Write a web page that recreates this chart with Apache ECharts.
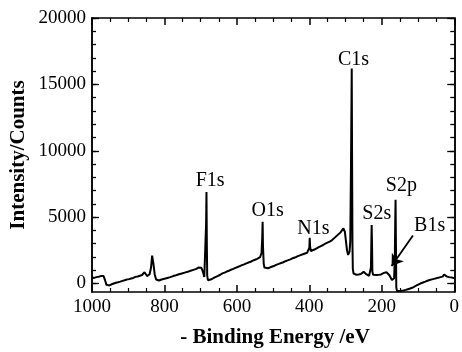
<!DOCTYPE html>
<html>
<head>
<meta charset="utf-8">
<script src="https://cdn.jsdelivr.net/npm/echarts@6/dist/echarts.min.js"></script>
<style>
html,body{margin:0;padding:0;background:#fff;}
#chart{width:462px;height:352px;}
</style>
</head>
<body>
<div id="chart"></div>
<script>
// Binding energy (eV) and intensity (counts)
const energy = [1000,994,988,982,976,972,968,964,960,957,952,946,940,934,928,922,916,910,904,898,892,886,880,874,868,862,858,855,852,848,845,841,837,834,832,830,827,823,820,815,808,800,792,784,776,768,760,752,744,736,728,720,712,706,702,698,694,690,687,685,684,683,682,680,676,670,664,658,652,646,640,634,628,622,616,610,604,598,592,586,580,574,568,562,556,550,544,540,536,532,530,529,528,526,524,520,514,508,502,496,490,484,478,472,466,460,454,448,442,436,430,424,418,412,406,402,400,399,398,396,392,386,380,374,368,362,356,350,344,338,332,326,320,314,310,306,304,302,299,296,293,291,289,287,285,283,282,281,280,278,275,270,264,258,254,250,247,243,239,235,232,230,229,228,227,226,224,220,214,208,202,198,194,190,187,183,179,175,172,169,166,164,163,162,161,160,158,152,146,140,134,128,122,116,110,104,98,92,86,80,74,68,62,56,50,44,38,32,30,28,26,20,14,8,2,0];
const counts = [450,420,480,500,560,640,560,250,-100,-220,-150,-60,0,60,90,140,200,240,300,330,380,420,500,530,580,640,760,850,700,560,500,700,1200,2100,2200,1400,700,300,200,230,300,360,420,480,560,620,700,760,820,880,960,1030,1100,1200,1280,1180,900,500,600,4500,6900,3000,600,250,230,320,420,500,580,660,760,820,900,960,1040,1100,1180,1240,1310,1380,1440,1520,1580,1640,1720,1790,1860,1900,1980,2300,3500,4650,2800,1500,1200,1100,1150,1220,1280,1340,1420,1480,1540,1600,1680,1740,1800,1880,1940,2000,2080,2140,2200,2260,2320,2420,2700,3450,2800,2450,2480,2560,2650,2740,2820,2900,3000,3080,3160,3250,3400,3550,3700,3850,3980,4150,4250,3900,3200,2500,2150,2100,2400,3200,9000,16200,9000,3000,1100,750,680,660,680,720,800,880,820,700,600,580,650,1200,2800,4400,3000,900,650,620,640,650,680,720,800,900,850,760,620,420,260,220,400,2000,4500,6300,3000,-300,-560,-560,-550,-520,-480,-430,-380,-320,-230,-140,-60,20,80,140,210,260,310,350,390,440,480,520,600,680,560,520,480,460,420,400];

// Peak annotations
const peakNames = ['F1s','O1s','N1s','C1s','S2s','S2p','B1s'];
const peakLabelEnergy = [674,515,389,278,214,146,68];
const peakLabelCounts = [7770,5510,4130,16830,5260,7400,4380];
const arrowFrom = [114,3620];
const arrowTo = [173,1320];

// Axis ticks
const yTickLabels = [0,5000,10000,15000,20000];
const yMinorTicks = [0,1000,2000,3000,4000,5000,6000,7000,8000,9000,10000,11000,12000,13000,14000,15000,16000,17000,18000,19000,20000];
const xTitle = '- Binding Energy /eV';
const yTitle = 'Intensity/Counts';

const FONT = '"Liberation Serif","Times New Roman",serif';
const spectrum = energy.map((e,i)=>[e,counts[i]]);

const black = '#000';
const plain = v => String(v);
function xAx(pos, showLabel){
  return {
    type:'value', position:pos, min:0, max:1000, interval:200, inverse:true,
    axisLine:{show:true,onZero:false,lineStyle:{color:black,width:1.5}},
    axisTick:{show:true,inside:true,length:7,lineStyle:{color:black,width:1.5}},
    minorTick:{show:true,splitNumber:4,length:4,lineStyle:{color:black,width:1.2}},
    axisLabel:{show:showLabel,margin:6,color:black,fontSize:19,fontFamily:FONT,formatter:plain},
    splitLine:{show:false}, minorSplitLine:{show:false}
  };
}
function yAx(pos, major, showLabel){
  return {
    type:'value', position:pos, min:-640, max:20000,
    axisLine:{show:true,onZero:false,lineStyle:{color:black,width:1.5}},
    axisTick:{show:true,inside:true,length:major?7:4,customValues: major?yTickLabels:yMinorTicks,lineStyle:{color:black,width:1.3}},
    axisLabel:{show:showLabel,margin:6,color:black,fontSize:19,fontFamily:FONT,customValues:yTickLabels,formatter:plain},
    splitLine:{show:false}
  };
}

const chart = echarts.init(document.getElementById('chart'),null,{renderer:'canvas'});
chart.setOption({
  animation:false,
  backgroundColor:'#fff',
  grid:{left:92,right:4,top:18,bottom:60,containLabel:false},
  xAxis:[xAx('bottom',true), xAx('top',false)],
  yAxis:[yAx('left',false,true), yAx('left',true,false), yAx('right',false,false), yAx('right',true,false)],
  graphic:[
    {type:'text',x:275,y:338,style:{text:xTitle,font:'bold 21px '+FONT,fill:black,textAlign:'center',textVerticalAlign:'middle'}},
    {type:'text',x:19,y:155,rotation:Math.PI/2,style:{text:yTitle,font:'bold 21px '+FONT,fill:black,textAlign:'center',textVerticalAlign:'middle'}}
  ],
  series:[
    {
      type:'line', xAxisIndex:0, yAxisIndex:0, data:spectrum, showSymbol:false, symbol:'none',
      lineStyle:{color:black,width:2}, silent:true,
      markLine:{
        silent:true, symbol:['none','arrow'], symbolSize:11, animation:false,
        itemStyle:{color:black},
        lineStyle:{color:black,width:1.8,type:'solid'}, label:{show:false},
        data:[[{coord:arrowFrom},{coord:arrowTo}]]
      },
      markPoint:{
        silent:true, symbol:'circle', symbolSize:0, animation:false,
        itemStyle:{color:'transparent'},
        label:{show:true,position:'inside',formatter:'{b}',color:black,fontSize:20,fontFamily:FONT,textBorderWidth:0,opacity:1},
        data: peakNames.map((n,i)=>({name:n,coord:[peakLabelEnergy[i],peakLabelCounts[i]]}))
      }
    }
  ]
});
</script>
</body>
</html>
